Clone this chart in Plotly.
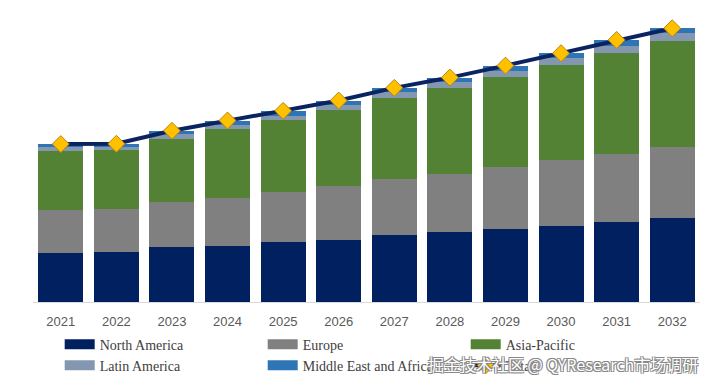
import plotly.graph_objects as go

years = ["2021", "2022", "2023", "2024", "2025", "2026", "2027", "2028", "2029", "2030", "2031", "2032"]
north_america = [49.5, 50.5, 54.8, 56.5, 60.5, 62.5, 66.8, 69.8, 73.5, 76.5, 80.5, 83.8]
europe = [43.0, 43.0, 45.0, 48.0, 50.0, 54.0, 56.7, 58.7, 62.0, 65.3, 68.0, 71.4]
asia_pacific = [58.7, 58.3, 63.7, 68.7, 72.3, 76.0, 80.7, 86.0, 90.3, 95.7, 100.7, 106.3]
latin_america = [4.0, 3.7, 5.0, 4.6, 4.0, 5.0, 6.0, 5.7, 6.0, 6.7, 7.3, 8.0]
mea = [3.0, 3.0, 3.0, 4.0, 4.7, 4.3, 4.3, 4.6, 5.0, 5.0, 6.0, 4.7]
totals = [a + b + c + d + e for a, b, c, d, e in zip(north_america, europe, asia_pacific, latin_america, mea)]

series = [
    ("North America", north_america, "#002060"),
    ("Europe", europe, "#808080"),
    ("Asia-Pacific", asia_pacific, "#548235"),
    ("Latin America", latin_america, "#8497B0"),
    ("Middle East and Africa", mea, "#2E75B6"),
]

fig = go.Figure()
for name, vals, col in series:
    fig.add_trace(go.Bar(x=years, y=vals, name=name, marker=dict(color=col, line=dict(width=0)),
                         showlegend=False, legendgroup=name))

# legend swatches (wide rectangles like the original), no visible data
for name, vals, col in series:
    fig.add_trace(go.Scatter(x=[years[0]], y=[None], mode="lines", name=name, legendgroup=name,
                             line=dict(color=col, width=10), showlegend=True, hoverinfo="skip"))

fig.add_trace(go.Scatter(x=years, y=totals, name="Total", mode="lines+markers",
                         line=dict(color="#0B2461", width=4),
                         marker=dict(symbol="diamond", size=13, color="#FFC000",
                                     line=dict(color="#B8860B", width=1))))

fig.update_layout(
    width=713, height=389,
    margin=dict(l=25, r=21, t=7, b=94.5, autoexpand=False),
    barmode="stack", bargap=0.19,
    plot_bgcolor="white", paper_bgcolor="white",
    xaxis=dict(type="category", categoryorder="array", categoryarray=years,
               range=[-0.5, 11.5], showgrid=False, showline=True, linecolor="#D9D9D9", linewidth=1,
               tickfont=dict(family="Liberation Sans, Arial", size=13, color="#595959"),
               ticks="", ticklabelstandoff=7),
    yaxis=dict(range=[0, 287.5], visible=False, showgrid=False, zeroline=False),
    legend=dict(orientation="h", xref="container", yref="container", x=0.0725, y=0.176,
                xanchor="left", yanchor="top", entrywidth=158, entrywidthmode="pixels",
                font=dict(family="Liberation Serif, Times New Roman", size=14, color="#404040"),
                traceorder="normal", tracegroupgap=0, bgcolor="rgba(0,0,0,0)"),
    annotations=[dict(text="掘金技术社区 @ QYResearch市场调研", xref="paper", yref="paper",
                      x=1.0, y=-0.217, xanchor="right", yanchor="middle", showarrow=False,
                      font=dict(family="Noto Sans CJK SC", size=16, color="white",
                                shadow="1px 1px 0px #888, -1px -1px 0px #888, 1px -1px 0px #888, -1px 1px 0px #888"))],
)

fig.write_html("out.html")
